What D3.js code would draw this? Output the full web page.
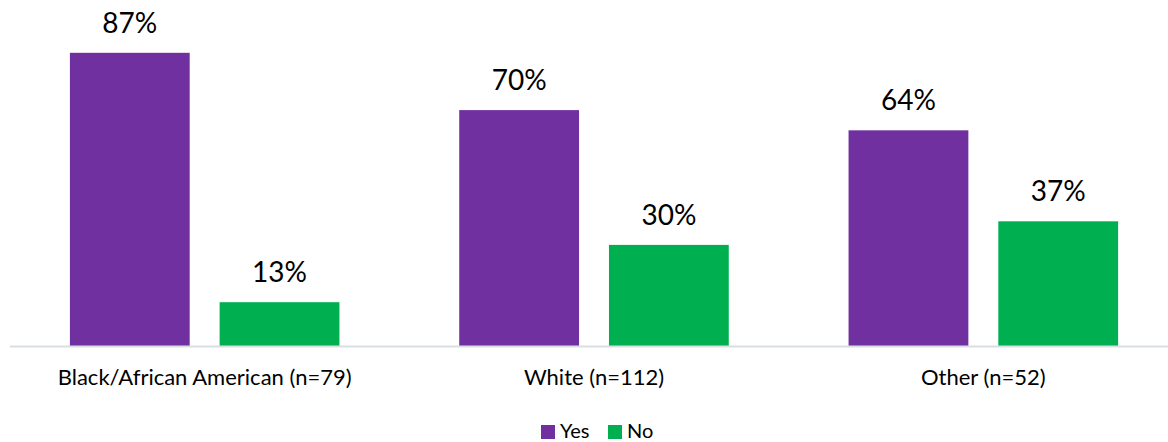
<!DOCTYPE html>
<html><head><meta charset="utf-8">
<script src="https://cdn.jsdelivr.net/npm/d3@7"></script>
<style>body{margin:0;background:#fff}svg{display:block;font-family:Lato,"Open Sans",sans-serif}</style>
</head><body><svg id="c" width="1168" height="442"></svg>
<script>
const categories = ["Black/African American (n=79)", "White (n=112)", "Other (n=52)"];
const seriesNames = ["Yes", "No"];
const yesValues = [87, 70, 64];
const noValues = [13, 30, 37];
const colors = ["#7030A0", "#00B050"];

(function () {
const svg = d3.select("#c");
const baseline = 346, plotTop = 9;
const x0 = d3.scaleBand().domain(categories).range([10, 1178]).paddingInner(0).paddingOuter(0);
const x1 = d3.scaleBand().domain(seriesNames).range([0, x0.bandwidth()]).paddingInner(0.2).paddingOuter(0.4);
const y = d3.scaleLinear().domain([0, 100]).range([baseline, plotTop]);

const data = categories.map((c, i) => ({cat: c, vals: [{k: "Yes", v: yesValues[i]}, {k: "No", v: noValues[i]}]}));

const g = svg.selectAll("g.grp").data(data).join("g").attr("class", "grp")
  .attr("transform", d => `translate(${x0(d.cat)},0)`);
g.selectAll("rect").data(d => d.vals).join("rect")
  .attr("x", d => x1(d.k)).attr("width", x1.bandwidth())
  .attr("y", d => y(d.v)).attr("height", d => baseline - y(d.v))
  .attr("fill", (d, i) => colors[i]);
g.selectAll("text.val").data(d => d.vals).join("text").attr("class", "val")
  .attr("x", d => x1(d.k) + x1.bandwidth() / 2).attr("y", d => y(d.v) - 20)
  .attr("text-anchor", "middle").attr("font-size", 28).attr("fill", "#000")
  .text(d => d.v + "%");

svg.append("line").attr("x1", 10).attr("x2", 1168).attr("y1", baseline + 0.5).attr("y2", baseline + 0.5)
  .attr("stroke", "#D9DEE3").attr("stroke-width", 2);

const xAxis = d3.axisBottom(x0).tickSize(0).tickPadding(0);
const ax = svg.append("g").attr("transform", `translate(0,${baseline})`).call(xAxis);
ax.select(".domain").remove();
ax.selectAll("text").attr("font-size", 22).attr("fill", "#000").attr("dy", 0).attr("y", 39)
  .style("font-family", "Lato,'Open Sans',sans-serif");

const leg = svg.append("g");
const legX = [541, 608];
seriesNames.forEach((s, i) => {
  leg.append("rect").attr("x", legX[i]).attr("y", 425).attr("width", 14).attr("height", 14).attr("fill", colors[i]);
  leg.append("text").attr("x", legX[i] + 19).attr("y", 438).attr("font-size", 20).attr("fill", "#000").text(s);
});
})();
</script></body></html>
